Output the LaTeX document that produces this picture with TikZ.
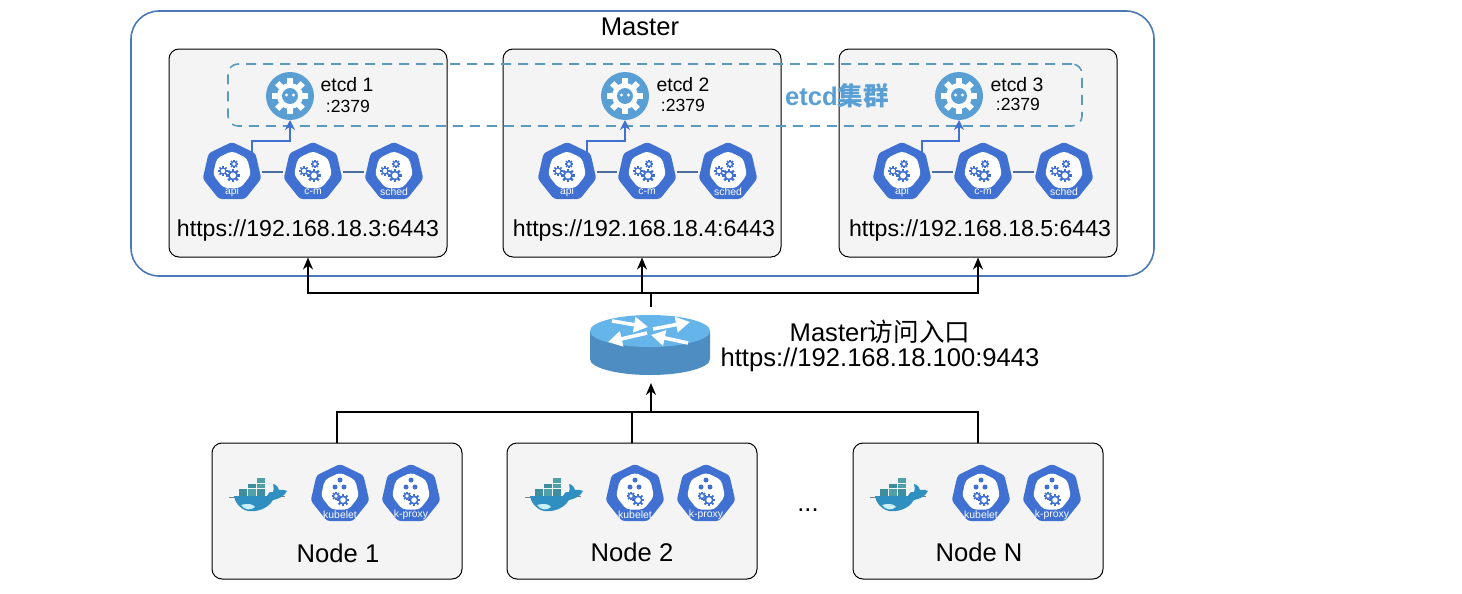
\documentclass[tikz,border=0pt]{standalone}
\usepackage{fontspec}
\setmainfont{Liberation Sans}
\newfontfamily\cjk{Noto Sans CJK SC}
\usetikzlibrary{shapes.geometric,arrows.meta}

\definecolor{kubeblue}{HTML}{3F70D2}
\definecolor{etcdblue}{HTML}{5A9FD4}
\definecolor{dashblue}{HTML}{5B9ABF}
\definecolor{masterblue}{HTML}{4A78B8}
\definecolor{linkgrey}{HTML}{4A6F9E}
\definecolor{boxgrey}{HTML}{F4F4F4}
\definecolor{rttop}{HTML}{66B5EA}
\definecolor{rtside}{HTML}{4D8DC2}
\definecolor{crateA}{HTML}{3F8E9E}
\definecolor{crateB}{HTML}{4FA0A8}
\definecolor{whalebody}{HTML}{2F8FC0}

\newcommand{\fsize}[1]{\fontsize{#1}{#1}\selectfont}

% gear: x, y, radius, colour, hole colour
\newcommand{\gearicon}[5]{%
  \foreach \a in {0,45,...,315}
    \draw[#4, line width=#3*0.2pt] (#1,#2) ++(\a:#3*0.7) -- ++(\a:#3*0.55);
  \fill[#4] (#1,#2) circle[radius=#3*0.9];
  \fill[#5] (#1,#2) circle[radius=#3*0.55];
}
% control plane icon: name, x, y, label
\newcommand{\masterpart}[4]{%
  \node[kube] (#1) at (#2,#3) {};
  \node[kubein] (#1in) at (#2,#3-1.5) {};
  \gearicon{#2-9}{#3-1}{4}{kubeblue}{white}
  \gearicon{#2+2}{#3-8}{3.5}{kubeblue}{white}
  \gearicon{#2+1}{#3+3.5}{5.5}{kubeblue}{white}
  \node[kubetxt] (#1txt) at (#2,#3+20) {#4};
}
% worker icon: name, x, y, label
\newcommand{\workerpart}[4]{%
  \node[kube] (#1) at (#2,#3) {};
  \node[kubein] (#1in) at (#2,#3-2) {};
  \fill[kubeblue] (#2,#3-14) circle[radius=2.5];
  \fill[kubeblue] (#2-5,#3-7) circle[radius=2.5];
  \fill[kubeblue] (#2+4,#3-7) circle[radius=2.5];
  \gearicon{#2-4}{#3+2}{3.5}{kubeblue}{white}
  \gearicon{#2+3}{#3+6}{5}{kubeblue}{white}
  \node[kubetxt] (#1txt) at (#2,#3+21) {#4};
}
% etcd icon: name, x, y
\newcommand{\etcdpart}[3]{%
  \node[etcd] (#1) at (#2,#3) {};
  \gearicon{#2}{#3}{14.5}{white}{etcdblue}
  \fill[white] (#2-3.5,#3-1) circle[radius=1.6];
  \fill[white] (#2+3.5,#3-1) circle[radius=1.6];
}
% docker whale: x, y
\newcommand{\whale}[2]{%
  \begin{scope}[shift={(#1,#2)}]
    \fill[black!50] (-29,5) rectangle (-20,6);
    \fill[black!50] (19,4) rectangle (27,5);
    \fill[crateA] (-19,-3) rectangle (-11,5);
    \fill[crateB] (-10,-3) rectangle (-2,5);
    \fill[crateA] (-1,-3) rectangle (7,5);
    \fill[crateA] (-10,-8) rectangle (-2,-4);
    \fill[crateB] (-1,-8) rectangle (7,-4);
    \fill[crateB] (-1,-14) rectangle (7,-9);
    \fill[whalebody] (-24,4) -- (9,4) .. controls (11,0) and (13,-1) .. (15,0)
      .. controls (16,-2) and (16,-5) .. (15,-8) .. controls (19,-7) and (20,-5) .. (21,-2)
      .. controls (24,-3) and (27,-2) .. (29,-1) .. controls (26,5) and (20,7) .. (15,8)
      .. controls (9,18) and (-3,20) .. (-10,19) .. controls (-18,17) and (-23,11) .. cycle;
    \fill[cyan!20] (-17,13) .. controls (-10,11) and (-5,12) .. (-3,15)
      .. controls (-8,19) and (-13,18) .. cycle;
  \end{scope}
}

\begin{document}
\begin{tikzpicture}[
  x=0.5pt, y=-0.5pt,
  masterbox/.style={rectangle, draw=masterblue, line width=0.8pt, rounded corners=14pt,
                    minimum width=511.5pt, minimum height=132.5pt, inner sep=0pt},
  hostbox/.style={rectangle, draw=black, line width=0.5pt, rounded corners=5pt, fill=boxgrey,
                  minimum width=139pt, minimum height=104pt, inner sep=0pt},
  nodebox/.style={rectangle, draw=black, line width=0.5pt, rounded corners=5pt, fill=boxgrey,
                  minimum width=125pt, minimum height=68pt, inner sep=0pt},
  etcdring/.style={rectangle, draw=dashblue, line width=0.8pt, dash pattern=on 5pt off 3.5pt,
                   rounded corners=5pt, minimum width=427pt, minimum height=31pt, inner sep=0pt},
  kube/.style={regular polygon, regular polygon sides=7, fill=kubeblue, rounded corners=1.5pt,
               minimum size=30pt, inner sep=0pt, outer sep=0pt},
  kubein/.style={regular polygon, regular polygon sides=7, fill=white, rounded corners=2pt,
                 minimum size=19.5pt, inner sep=0pt},
  kubetxt/.style={text=white, font=\fsize{5.2}, inner sep=0pt},
  etcd/.style={circle, fill=etcdblue, minimum size=24pt, inner sep=0pt, outer sep=0pt},
  router/.style={rectangle, minimum width=60pt, minimum height=30pt, inner sep=0pt, outer ysep=4pt},
  txt/.style={font=\fsize{12.8}, inner sep=0pt, align=center},
  urltxt/.style={font=\fsize{11.55}, inner sep=0pt},
  etcdtxt/.style={font=\fsize{9.7}, inner sep=0pt},
  porttxt/.style={font=\fsize{8.8}, inner sep=0pt},
  arr/.style={->, >={Stealth[length=6pt,width=5pt]}, line width=1pt},
  wire/.style={line width=1pt},
  hlink/.style={linkgrey, line width=0.9pt, shorten >=1pt, shorten <=1pt},
  apilink/.style={-{Stealth[length=5pt,width=5pt]}, kubeblue, line width=1pt},
  rtarr/.style={-{Triangle[length=7pt,width=7.5pt]}, white, line width=1.8pt},
]
\useasboundingbox (0,0) rectangle (1462,594);

% Master frame
\node[masterbox] (master) at (642.5,143.5) {};
\node[txt] (mastertxt) at (640,27) {Master};

% Three control plane hosts
\node[hostbox] (host1) at (308,153) {};
\node[hostbox] (host2) at (642,153) {};
\node[hostbox] (host3) at (978,153) {};
\node[urltxt] (url1) at (308,230.5) {https://192.168.18.3:6443};
\node[urltxt] (url2) at (644,230.5) {https://192.168.18.4:6443};
\node[urltxt] (url3) at (980,230.5) {https://192.168.18.5:6443};

% etcd cluster
\node[etcdring] (ring) at (655,95) {};
\etcdpart{etcd1}{290}{96}
\etcdpart{etcd2}{625}{96}
\etcdpart{etcd3}{959}{96}
\node[etcdtxt] (etcdtxt1) at (347,85) {etcd 1};
\node[porttxt] (port1) at (348,106) {:2379};
\node[etcdtxt] (etcdtxt2) at (683,85) {etcd 2};
\node[porttxt] (port2) at (683,105) {:2379};
\node[etcdtxt] (etcdtxt3) at (1017,85) {etcd 3};
\node[porttxt] (port3) at (1018,104) {:2379};
\node[font=\fsize{12.8}\bfseries, text=etcdblue, inner sep=0pt] (ringtxt) at (837,96) {etcd{\cjk 集群}};

% Control plane components
\masterpart{api1}{232}{172}{api}
\masterpart{cm1}{313}{172}{c-m}
\masterpart{sched1}{394}{172}{sched}
\masterpart{api2}{567}{172}{api}
\masterpart{cm2}{647}{172}{c-m}
\masterpart{sched2}{728}{172}{sched}
\masterpart{api3}{902}{172}{api}
\masterpart{cm3}{983}{172}{c-m}
\masterpart{sched3}{1064}{172}{sched}

\draw[hlink] (api1) -- (cm1);
\draw[hlink] (cm1) -- (sched1);
\draw[hlink] (api2) -- (cm2);
\draw[hlink] (cm2) -- (sched2);
\draw[hlink] (api3) -- (cm3);
\draw[hlink] (cm3) -- (sched3);

\draw[apilink] (api1.46) -- ++(0,-11) -| (etcd1.south);
\draw[apilink] (api2.46) -- ++(0,-11) -| (etcd2.south);
\draw[apilink] (api3.46) -- ++(0,-11) -| (etcd3.south);

% Router
\fill[rtside] (590,331) -- (590,359) arc[x radius=60, y radius=16, start angle=180, end angle=0] -- (710,331) -- cycle;
\fill[rttop] (650,331) ellipse[x radius=60, y radius=16];
\draw[rtarr] (612,321) -- (648,327);
\draw[rtarr] (653,329) -- (690,322);
\draw[rtarr] (647,333) -- (608,342);
\draw[rtarr] (688,343) -- (651,335);
\node[router] (lb) at (651,345) {};
\node[txt] (lbtxt) at (880,346) {Master{\cjk 访问入口}\\[0pt]https://192.168.18.100:9443};

% Upper bus
\coordinate (busup) at (651,293);
\draw[wire] (lb.north) -- (busup);
\draw[arr] (busup) -| (host1.south);
\draw[arr] (busup) -| (host2.south);
\draw[arr] (busup) -| (host3.south);

% Worker hosts
\node[nodebox] (node1) at (337,511) {};
\node[nodebox] (node2) at (632,511) {};
\node[nodebox] (node3) at (978,511) {};
\node[txt] (nodetxt1) at (338,553) {Node 1};
\node[txt] (nodetxt2) at (632,552) {Node 2};
\node[txt] (nodetxt3) at (979,552) {Node N};
\node[txt] (dots) at (808,510) {...};

\whale{258}{492}
\whale{554}{492}
\whale{899}{492}
\workerpart{kubelet1}{340}{494}{kubelet}
\workerpart{proxy1}{411}{494}{k-proxy}
\workerpart{kubelet2}{635}{494}{kubelet}
\workerpart{proxy2}{706}{494}{k-proxy}
\workerpart{kubelet3}{981}{494}{kubelet}
\workerpart{proxy3}{1052}{494}{k-proxy}

% Lower bus
\coordinate (busdown) at (651,412);
\draw[wire] (node1.north) |- (busdown);
\draw[wire] (node2.north) |- (busdown);
\draw[wire] (node3.north) |- (busdown);
\draw[arr] (busdown) -- (lb.south);

\end{tikzpicture}
\end{document}
